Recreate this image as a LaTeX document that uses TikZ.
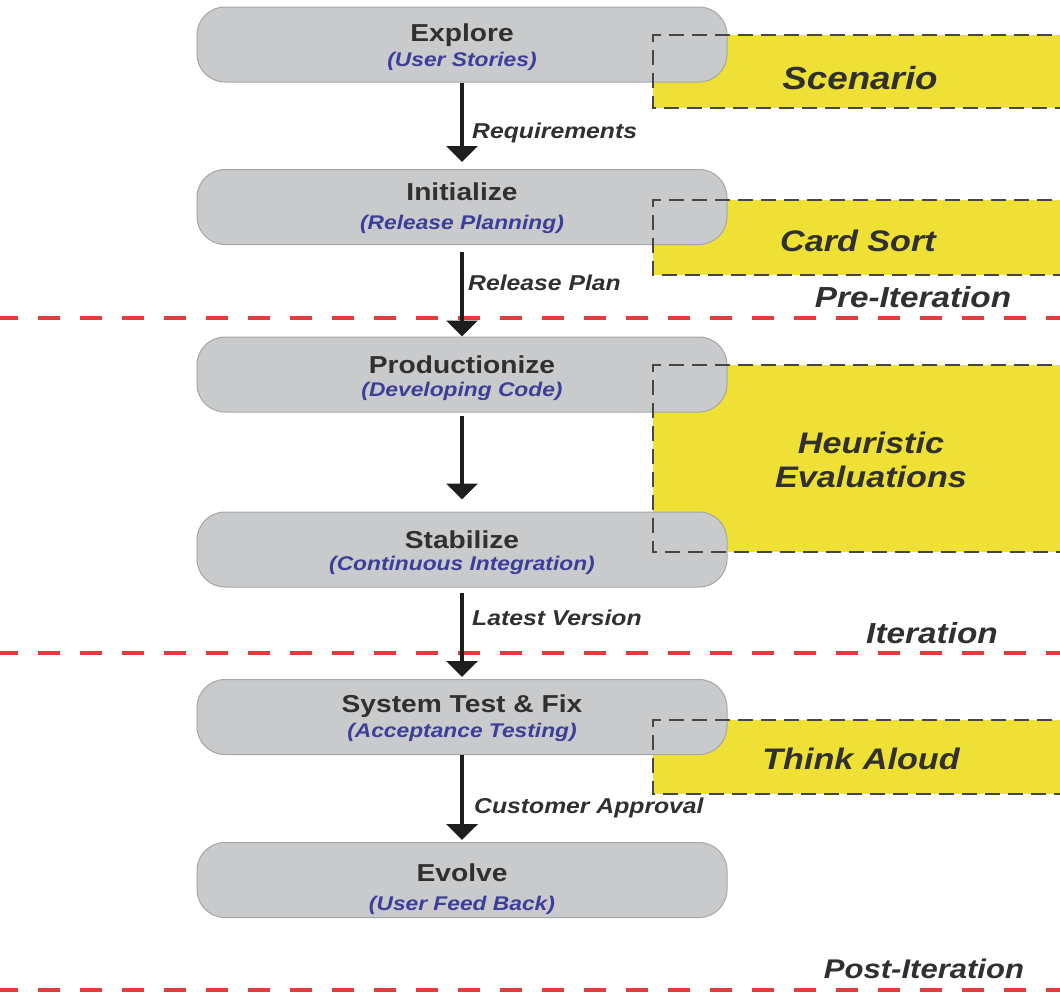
\documentclass[tikz,border=0pt]{standalone}
\usepackage{fontspec}
\usetikzlibrary{arrows.meta}
\newfontfamily\wideface[FakeStretch=1.15]{Liberation Sans}

\definecolor{boxgray}{RGB}{201,202,204}
\definecolor{boxedge}{RGB}{165,166,168}
\definecolor{titletext}{RGB}{48,48,48}
\definecolor{subtext}{RGB}{60,63,154}
\definecolor{markyellow}{RGB}{239,224,54}
\definecolor{markedge}{RGB}{70,70,70}
\definecolor{phasered}{RGB}{226,59,59}
\definecolor{arrowink}{RGB}{30,30,30}

\tikzset{
  stage/.style={draw=boxedge, line width=1pt, fill=boxgray, rounded corners=28pt,
    minimum width=530pt, minimum height=75pt, inner sep=0pt},
  stagetitle/.style={inner sep=0pt, text=titletext,
    font=\wideface\bfseries\fontsize{24.5}{29}\selectfont},
  stagesub/.style={inner sep=0pt, text=subtext,
    font=\wideface\bfseries\itshape\fontsize{19.8}{24}\selectfont},
  flowarrow/.style={line width=4pt, draw=arrowink,
    -{Triangle[width=31pt,length=16pt]}},
  flowlabel/.style={anchor=west, inner sep=0pt, text=titletext,
    font=\wideface\bfseries\itshape\fontsize{21.5}{25}\selectfont},
  methodfill/.style={fill=markyellow},
  methodedge/.style={draw=markedge, line width=2.5pt, dash pattern=on 15pt off 8pt},
  methodlabel/.style={inner sep=0pt, text=titletext, align=center,
    font=\wideface\bfseries\itshape\fontsize{29.7}{34}\selectfont},
  phaseline/.style={draw=phasered, line width=4pt, dash pattern=on 22pt off 20pt},
  phaselabel/.style={inner sep=0pt, text=titletext,
    font=\wideface\bfseries\itshape\fontsize{29}{33}\selectfont},
}

\begin{document}
\begin{tikzpicture}[x=1pt, y=-1pt]
  \clip (0,0) rectangle (1060,991);
  \fill[white] (0,0) rectangle (1060,991);

  % usability methods: yellow bands behind the stages
  \fill[methodfill] (653,35) rectangle (1075,108);
  \fill[methodfill] (653,200) rectangle (1075,275);
  \fill[methodfill] (653,365) rectangle (1075,552);
  \fill[methodfill] (653,720) rectangle (1075,794);

  % phase separators
  \draw[phaseline] (-4,318) -- (1070,318);
  \draw[phaseline] (-4,653) -- (1070,653);
  \draw[phaseline] (-4,990) -- (1070,990);

  % process stages
  \node[stage] (ex) at (462,44.5) {};
  \node[stage] (in) at (462,207)  {};
  \node[stage] (pr) at (462,374.5) {};
  \node[stage] (st) at (462,549.5) {};
  \node[stage] (sy) at (462,717)  {};
  \node[stage] (ev) at (462,880)  {};

  % dashed outlines of the method bands, over the stages
  \draw[methodedge] (1075,35) -- (653,35) -- (653,108) -- (1075,108);
  \draw[methodedge] (1075,200) -- (653,200) -- (653,275) -- (1075,275);
  \draw[methodedge] (1075,365) -- (653,365) -- (653,552) -- (1075,552);
  \draw[methodedge] (1075,720) -- (653,720) -- (653,794) -- (1075,794);

  % stage texts
  \node[stagetitle] (ext) at (462,35)  {Explore};
  \node[stagesub]   (exs) at (462,61)  {(User Stories)};
  \node[stagetitle] (int) at (462,192) {Initialize};
  \node[stagesub]   (ins) at (462,224) {(Release Planning)};
  \node[stagetitle] (prt) at (462,365) {Productionize};
  \node[stagesub]   (prs) at (462,391) {(Developing Code)};
  \node[stagetitle] (stt) at (462,540) {Stabilize};
  \node[stagesub]   (sts) at (462,565) {(Continuous Integration)};
  \node[stagetitle] (syt) at (462,706) {System Test \& Fix};
  \node[stagesub]   (sys) at (462,732) {(Acceptance Testing)};
  \node[stagetitle] (evt) at (462,873) {Evolve};
  \node[stagesub]   (evs) at (462,905) {(User Feed Back)};

  % method texts
  \node[methodlabel] (scen)  at (860,78)  {\fontsize{32}{36}\selectfont Scenario};
  \node[methodlabel] (card)  at (858,241) {Card Sort};
  \node[methodlabel] (heur)  at (871,460) {Heuristic\\Evaluations};
  \node[methodlabel] (think) at (861,759) {Think Aloud};

  % phase names
  \node[phaselabel] (pre)  at (913,297) {Pre-Iteration};
  \node[phaselabel] (iter) at (932,633) {Iteration};
  \node[phaselabel, font=\wideface\bfseries\itshape\fontsize{27}{31}\selectfont]
    (post) at (924,969) {Post-Iteration};

  % flow between stages
  \draw[flowarrow, shorten >=7pt] (ex.south) -- (in.north);
  \draw[flowarrow, shorten <=7pt, shorten >=0pt] (in.south) -- (pr.north);
  \draw[flowarrow, shorten <=3pt, shorten >=12pt] (pr.south) -- (st.north);
  \draw[flowarrow, shorten <=5pt, shorten >=2pt] (st.south) -- (sy.north);
  \draw[flowarrow, shorten >=2pt] (sy.south) -- (ev.north);

  % flow labels
  \node[flowlabel] (req) at (472,133) {Requirements};
  \node[flowlabel] (rel) at (468,283) {Release Plan};
  \node[flowlabel] (lat) at (472,618) {Latest Version};
  \node[flowlabel] (cus) at (474,808) {Customer Approval};
\end{tikzpicture}
\end{document}
